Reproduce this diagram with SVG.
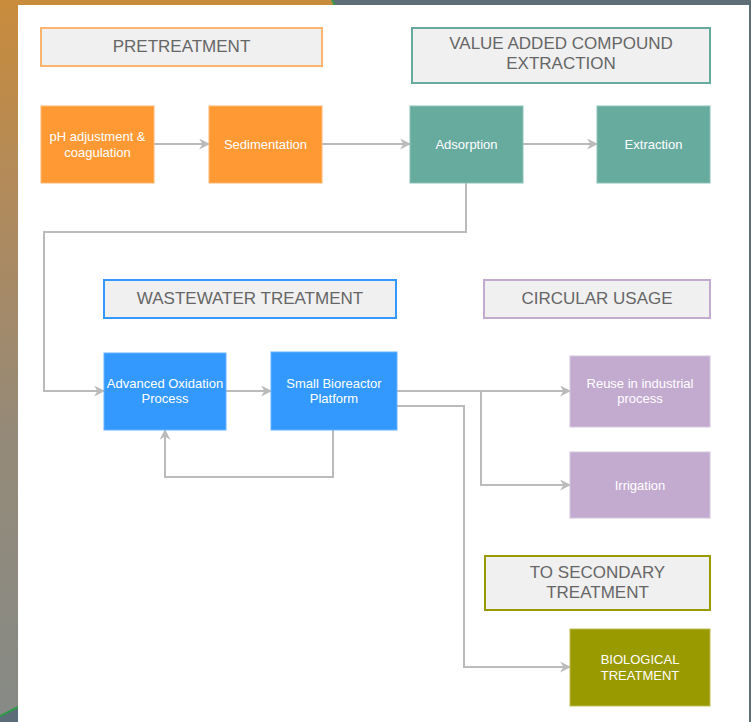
<svg xmlns="http://www.w3.org/2000/svg" width="751" height="722" viewBox="0 0 751 722">
<defs>
<linearGradient id="lg" x1="0" y1="0" x2="0" y2="1">
<stop offset="0" stop-color="#c98c3c"/>
<stop offset="0.3" stop-color="#ae8a5e"/>
<stop offset="0.6" stop-color="#958a78"/>
<stop offset="1" stop-color="#868a86"/>
</linearGradient>
<marker id="ah" viewBox="0 0 10 10" refX="9" refY="5" markerWidth="11" markerHeight="11" markerUnits="userSpaceOnUse" orient="auto">
<path d="M0,0 L10,5 L0,10 L3,5 Z" fill="#bbbbbb"/>
</marker>
<style>
.lbl{fill:#f0f0f0;stroke-width:2}
.lt{font-family:"Liberation Sans",Arial,sans-serif;font-size:17px;fill:#666666;text-anchor:middle}
.nt{font-family:"Liberation Sans",Arial,sans-serif;font-size:13px;fill:#ffffff;text-anchor:middle}
.con{fill:none;stroke:#bbbbbb;stroke-width:2;marker-end:url(#ah)}
.orange{fill:#ff9933;stroke:#ffb570}
.teal{fill:#67ab9f;stroke:#8cc3b8}
.blue{fill:#3399ff;stroke:#66b2ff}
.purple{fill:#c3abd0;stroke:#d5c5de}
.olive{fill:#999900;stroke:#bdbd4d}
</style>
</defs>
<!-- background -->
<rect x="0" y="0" width="751" height="722" fill="url(#lg)"/>
<rect x="333" y="0" width="418" height="6" fill="#5e6e76"/>
<line x1="332" y1="0" x2="335" y2="6" stroke="#3a9a4a" stroke-width="2"/>
<rect x="740" y="0" width="11" height="722" fill="#5e6e76"/>
<polygon points="0,722 0,716 18,707 18,722" fill="#5c6c78"/>
<line x1="0" y1="716" x2="18" y2="707" stroke="#2e9a48" stroke-width="2"/>
<rect x="18" y="5" width="731" height="717" fill="#ffffff"/>

<!-- connectors -->
<g id="connectors">
<path class="con" d="M154,144 H209"/>
<path class="con" d="M322,144 H410"/>
<path class="con" d="M523,144 H597"/>
<path class="con" d="M466,183 V232 H44 V391 H104"/>
<path class="con" d="M226,391 H271"/>
<path class="con" d="M333,430 V477 H165 V430"/>
<path class="con" d="M397,391 H570"/>
<path class="con" d="M481,391 V485 H570"/>
<path class="con" d="M397,406 H464 V667 H570"/>
</g>

<!-- group labels -->
<g id="lbl-pretreatment">
<rect class="lbl" x="41" y="28" width="281" height="38" stroke="#ffb570"/>
<text class="lt" x="181.5" y="52">PRETREATMENT</text>
</g>
<g id="lbl-value-added">
<rect class="lbl" x="412" y="28" width="298" height="55" stroke="#67ab9f"/>
<text class="lt" x="561" y="49">VALUE ADDED COMPOUND</text>
<text class="lt" x="561" y="69">EXTRACTION</text>
</g>
<g id="lbl-wastewater">
<rect class="lbl" x="104" y="280" width="292" height="38" stroke="#3399ff"/>
<text class="lt" x="250" y="304">WASTEWATER TREATMENT</text>
</g>
<g id="lbl-circular">
<rect class="lbl" x="484" y="280" width="226" height="38" stroke="#c3abd0"/>
<text class="lt" x="597" y="304">CIRCULAR USAGE</text>
</g>
<g id="lbl-secondary">
<rect class="lbl" x="485" y="556" width="225" height="54" stroke="#999900"/>
<text class="lt" x="597.5" y="578">TO SECONDARY</text>
<text class="lt" x="597.5" y="598">TREATMENT</text>
</g>

<!-- nodes -->
<g id="node-ph">
<rect class="orange" x="41" y="106" width="113" height="77"/>
<text class="nt" x="97.5" y="140.5">pH adjustment &amp;</text>
<text class="nt" x="97.5" y="156.5">coagulation</text>
</g>
<g id="node-sedimentation">
<rect class="orange" x="209" y="106" width="113" height="77"/>
<text class="nt" x="265.5" y="148.5">Sedimentation</text>
</g>
<g id="node-adsorption">
<rect class="teal" x="410" y="106" width="113" height="77"/>
<text class="nt" x="466.5" y="148.5">Adsorption</text>
</g>
<g id="node-extraction">
<rect class="teal" x="597" y="106" width="113" height="77"/>
<text class="nt" x="653.5" y="148.5">Extraction</text>
</g>
<g id="node-aop">
<rect class="blue" x="104" y="353" width="122" height="77"/>
<text class="nt" x="165" y="387.5">Advanced Oxidation</text>
<text class="nt" x="165" y="402.5">Process</text>
</g>
<g id="node-sbp">
<rect class="blue" x="271" y="352" width="126" height="78"/>
<text class="nt" x="334" y="387.5">Small Bioreactor</text>
<text class="nt" x="334" y="402.5">Platform</text>
</g>
<g id="node-reuse">
<rect class="purple" x="570" y="356" width="140" height="71"/>
<text class="nt" x="640" y="387.5">Reuse in industrial</text>
<text class="nt" x="640" y="402.5">process</text>
</g>
<g id="node-irrigation">
<rect class="purple" x="570" y="452" width="140" height="66"/>
<text class="nt" x="640" y="489.5">Irrigation</text>
</g>
<g id="node-biological">
<rect class="olive" x="570" y="629" width="140" height="77"/>
<text class="nt" x="640" y="663.5">BIOLOGICAL</text>
<text class="nt" x="640" y="679.5">TREATMENT</text>
</g>
</svg>
